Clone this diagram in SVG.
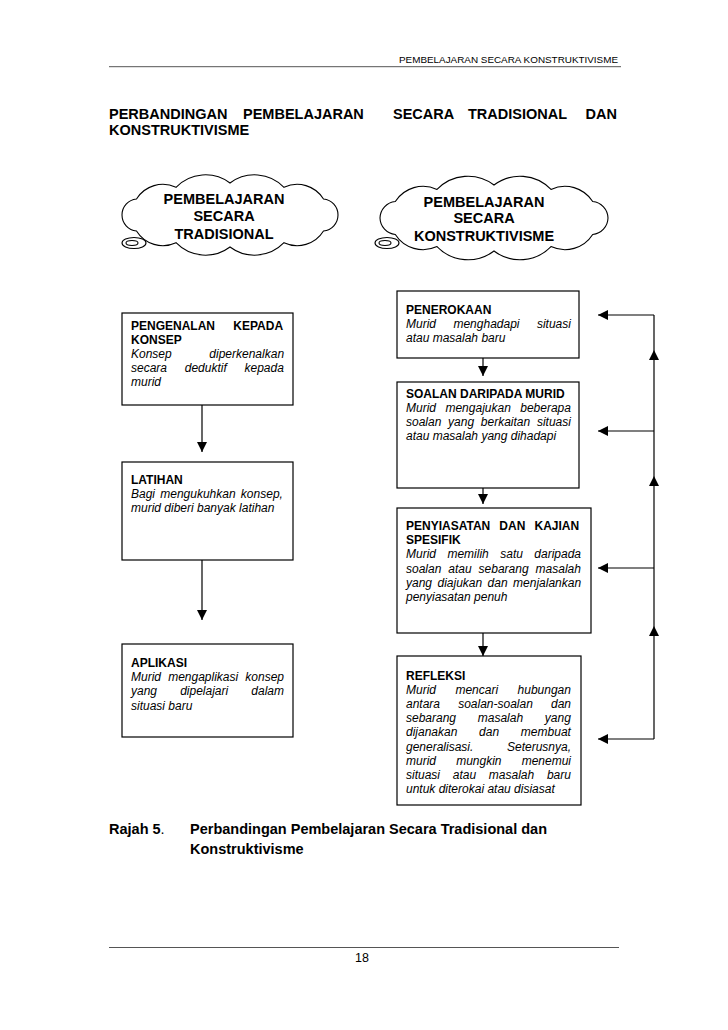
<svg xmlns="http://www.w3.org/2000/svg" width="728" height="1030" viewBox="0 0 728 1030">
<style>
.t{font-family:"Liberation Sans",Arial,sans-serif;fill:#000}
.b{font-weight:bold}
.i{font-style:italic}
.s12{font-size:12px}
.box{fill:#fff;stroke:#000;stroke-width:1.2}
.ln{fill:none;stroke:#000;stroke-width:1.2}
.cloud{fill:#fff;stroke:#000;stroke-width:1.1}
</style>
<defs>
<marker id="ah" viewBox="0 0 10 10" refX="10" refY="5" markerWidth="10" markerHeight="10" markerUnits="userSpaceOnUse" orient="auto">
<path d="M0,0 L10,5 L0,10 z" fill="#000"/>
</marker>
</defs>
<rect width="728" height="1030" fill="#fff"/>

<g id="header">
<text class="t" x="399" y="62.5" font-size="9" textLength="219" lengthAdjust="spacingAndGlyphs">PEMBELAJARAN SECARA KONSTRUKTIVISME</text>
<line x1="109" y1="66.7" x2="621" y2="66.7" stroke="#555" stroke-width="1"/>
</g>

<g id="title" class="t b" font-size="14.5">
<text x="109" y="118.5">PERBANDINGAN</text>
<text x="243" y="118.5">PEMBELAJARAN</text>
<text x="393" y="118.5">SECARA</text>
<text x="468" y="118.5">TRADISIONAL</text>
<text x="617" y="118.5" text-anchor="end">DAN</text>
<text x="109" y="134.5">KONSTRUKTIVISME</text>
</g>

<g id="cloud-tradisional">
<path class="cloud" d="M122,215 A16,16 0 0,1 136.5,199 A31,31 0 0,1 176,187.3 A41,41 0 0,1 230,183 A41,41 0 0,1 284,187.3 A31,31 0 0,1 323.5,199 A16,16 0 0,1 338,215 A16,16 0 0,1 323.5,231 A31,31 0 0,1 284,242.7 A41,41 0 0,1 230,247 A41,41 0 0,1 176,242.7 A31,31 0 0,1 136.5,231 A16,16 0 0,1 122,215 Z"/>
<ellipse class="cloud" cx="134" cy="243" rx="12" ry="5.5"/>
<ellipse class="cloud" cx="132" cy="243" rx="6" ry="2.5"/>
<g class="t b" font-size="14.5" text-anchor="middle">
<text x="224" y="204">PEMBELAJARAN</text>
<text x="224" y="221">SECARA</text>
<text x="224" y="239">TRADISIONAL</text>
</g>
</g>

<g id="cloud-konstruktivisme">
<path class="cloud" d="M380,218 A17,17 0 0,1 395.3,201.5 A33,33 0 0,1 437,189.4 A43,43 0 0,1 494,185 A43,43 0 0,1 551,189.4 A33,33 0 0,1 592.7,201.5 A17,17 0 0,1 608,218 A17,17 0 0,1 592.7,234.5 A33,33 0 0,1 551,246.6 A43,43 0 0,1 494,251 A43,43 0 0,1 437,246.6 A33,33 0 0,1 395.3,234.5 A17,17 0 0,1 380,218 Z"/>
<ellipse class="cloud" cx="387" cy="243" rx="12" ry="5.5"/>
<ellipse class="cloud" cx="385" cy="243" rx="6" ry="2.5"/>
<g class="t b" font-size="14.5" text-anchor="middle">
<text x="484" y="207">PEMBELAJARAN</text>
<text x="484" y="223">SECARA</text>
<text x="484" y="241">KONSTRUKTIVISME</text>
</g>
</g>

<g id="connectors">
<line class="ln" x1="202" y1="405" x2="202" y2="452" marker-end="url(#ah)"/>
<line class="ln" x1="202" y1="560" x2="202" y2="620" marker-end="url(#ah)"/>
<line class="ln" x1="483" y1="358" x2="483" y2="376" marker-end="url(#ah)"/>
<line class="ln" x1="483" y1="488" x2="483" y2="504" marker-end="url(#ah)"/>
<line class="ln" x1="483" y1="633" x2="483" y2="656" marker-end="url(#ah)"/>
<line class="ln" x1="654" y1="315" x2="654" y2="739"/>
<line class="ln" x1="654" y1="315" x2="598" y2="315" marker-end="url(#ah)"/>
<line class="ln" x1="654" y1="431" x2="598" y2="431" marker-end="url(#ah)"/>
<line class="ln" x1="654" y1="568" x2="598" y2="568" marker-end="url(#ah)"/>
<line class="ln" x1="654" y1="739" x2="598" y2="739" marker-end="url(#ah)"/>
<polygon points="649,360 659,360 654,350" fill="#000"/>
<polygon points="649,486 659,486 654,476" fill="#000"/>
<polygon points="649,636 659,636 654,626" fill="#000"/>
</g>

<g id="node-pengenalan">
<rect class="box" x="122" y="313" width="171" height="92"/>
<g class="t s12">
<text class="b" x="131" y="329.5" word-spacing="15">PENGENALAN KEPADA</text>
<text class="b" x="131" y="343.7">KONSEP</text>
<text class="i" x="131" y="357.9" word-spacing="34.3">Konsep diperkenalkan</text>
<text class="i" x="131" y="372.1" word-spacing="14.4">secara deduktif kepada</text>
<text class="i" x="131" y="386.3">murid</text>
</g>
</g>

<g id="node-latihan">
<rect class="box" x="122" y="462" width="171" height="98"/>
<g class="t s12">
<text class="b" x="131" y="484">LATIHAN</text>
<text class="i" x="131" y="498.2" word-spacing="1.9">Bagi mengukuhkan konsep,</text>
<text class="i" x="131" y="512.4">murid diberi banyak latihan</text>
</g>
</g>

<g id="node-aplikasi">
<rect class="box" x="122" y="644" width="171" height="93"/>
<g class="t s12">
<text class="b" x="131" y="667">APLIKASI</text>
<text class="i" x="131" y="681.2" word-spacing="3.8">Murid mengaplikasi konsep</text>
<text class="i" x="131" y="695.4" word-spacing="19.8">yang dipelajari dalam</text>
<text class="i" x="131" y="709.6">situasi baru</text>
</g>
</g>

<g id="node-penerokaan">
<rect class="box" x="397" y="291" width="182" height="67"/>
<g class="t s12">
<text class="b" x="406" y="313.5">PENEROKAAN</text>
<text class="i" x="406" y="327.7" word-spacing="14.1">Murid menghadapi situasi</text>
<text class="i" x="406" y="341.9">atau masalah baru</text>
</g>
</g>

<g id="node-soalan">
<rect class="box" x="397" y="382" width="182" height="106"/>
<g class="t s12">
<text class="b" x="406" y="397.5">SOALAN DARIPADA MURID</text>
<text class="i" x="406" y="411.7" word-spacing="6.1">Murid mengajukan beberapa</text>
<text class="i" x="406" y="425.9" word-spacing="3.4">soalan yang berkaitan situasi</text>
<text class="i" x="406" y="440.1">atau masalah yang dihadapi</text>
</g>
</g>

<g id="node-penyiasatan">
<rect class="box" x="397" y="508" width="194" height="125"/>
<g class="t s12">
<text class="b" x="406" y="530" word-spacing="5.8">PENYIASATAN DAN KAJIAN</text>
<text class="b" x="406" y="544.2">SPESIFIK</text>
<text class="i" x="406" y="558.4" word-spacing="8.1">Murid memilih satu daripada</text>
<text class="i" x="406" y="572.6" word-spacing="3.6">soalan atau sebarang masalah</text>
<text class="i" x="406" y="586.8" word-spacing="2.1">yang diajukan dan menjalankan</text>
<text class="i" x="406" y="601">penyiasatan penuh</text>
</g>
</g>

<g id="node-refleksi">
<rect class="box" x="397" y="656" width="184" height="149"/>
<g class="t s12">
<text class="b" x="406" y="679.5">REFLEKSI</text>
<text class="i" x="406" y="693.7" word-spacing="16.1">Murid mencari hubungan</text>
<text class="i" x="406" y="707.9" word-spacing="14.8">antara soalan-soalan dan</text>
<text class="i" x="406" y="722.1" word-spacing="18.4">sebarang masalah yang</text>
<text class="i" x="406" y="736.3" word-spacing="18.4">dijanakan dan membuat</text>
<text class="i" x="406" y="750.5" word-spacing="30.3">generalisasi. Seterusnya,</text>
<text class="i" x="406" y="764.7" word-spacing="16.8">murid mungkin menemui</text>
<text class="i" x="406" y="778.9" word-spacing="9.4">situasi atau masalah baru</text>
<text class="i" x="406" y="793.1">untuk diterokai atau disiasat</text>
</g>
</g>

<g id="caption" class="t b" font-size="14.5">
<text x="109" y="834">Rajah 5<tspan font-weight="normal">.</tspan></text>
<text x="190" y="834">Perbandingan Pembelajaran Secara Tradisional dan</text>
<text x="190" y="854">Konstruktivisme</text>
</g>

<g id="footer">
<line x1="109" y1="947.5" x2="619" y2="947.5" stroke="#555" stroke-width="1"/>
<text class="t" x="362" y="962" font-size="12.5" text-anchor="middle">18</text>
</g>
</svg>
